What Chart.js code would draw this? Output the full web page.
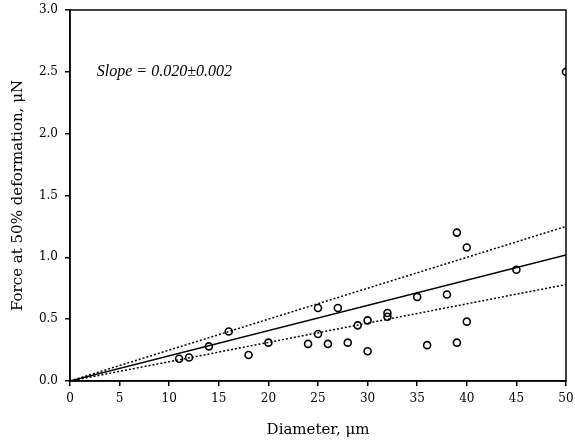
<!DOCTYPE html>
<html>
<head>
<meta charset="utf-8">
<script src="https://cdn.jsdelivr.net/npm/chart.js@4.4.0/dist/chart.umd.min.js"></script>
<style>
  html, body { margin: 0; padding: 0; background: #fff; }
  #wrap { width: 575px; height: 442px; }
</style>
</head>
<body>
<div id="wrap"><canvas id="chart"></canvas></div>
<script>
// measured points
const diameters = [11, 12, 14, 16, 18, 20, 24, 25, 25, 26, 27, 28, 29, 30, 30, 32, 32, 35, 36, 38, 39, 39, 40, 40, 45, 50];
const forces = [0.18, 0.19, 0.28, 0.40, 0.21, 0.31, 0.30, 0.59, 0.38, 0.30, 0.59, 0.31, 0.45, 0.49, 0.24, 0.55, 0.52, 0.68, 0.29, 0.70, 1.20, 0.31, 1.08, 0.48, 0.90, 2.50];

// fit lines (start / end)
const fitX = [0, 50];
const fitMid = [0, 1.02];
const fitUpper = [0, 1.25];
const fitLower = [0, 0.78];

const slopeText = 'Slope = 0.020\u00b10.002';

const toPts = (xs, ys) => xs.map((x, i) => ({ x: x, y: ys[i] }));

// frame + annotation
const framePlugin = {
    id: 'frame',
    afterDraw(chart) {
        const { ctx, chartArea } = chart;
        ctx.save();
        ctx.strokeStyle = '#000';
        ctx.lineWidth = 1.5;
        ctx.strokeRect(chartArea.left, chartArea.top, chartArea.right - chartArea.left, chartArea.bottom - chartArea.top);
        const xs = chart.scales.x, ys = chart.scales.y;
        ctx.fillStyle = '#000';
        ctx.font = 'italic 16px "Liberation Serif"';
        ctx.textBaseline = 'middle';
        ctx.fillText(slopeText, xs.getPixelForValue(2.7), ys.getPixelForValue(2.5));
        ctx.restore();
    }
};

const lineDs = (ys, dash) => ({
    type: 'line',
    data: toPts(fitX, ys),
    borderColor: '#000',
    borderWidth: 1.5,
    borderDash: dash,
    pointRadius: 0,
    fill: false,
    tension: 0
});

new Chart(document.getElementById('chart'), {
    type: 'scatter',
    data: {
        datasets: [
            lineDs(fitMid, []),
            lineDs(fitUpper, [2, 2]),
            lineDs(fitLower, [2, 2]),
            {
                type: 'scatter',
                data: toPts(diameters, forces),
                pointStyle: 'circle',
                pointRadius: 3.5,
                pointBorderWidth: 1.6,
                pointBorderColor: '#000',
                pointBackgroundColor: 'rgba(255,255,255,0)'
            }
        ]
    },
    options: {
        responsive: true,
        maintainAspectRatio: false,
        animation: false,
        layout: { padding: { left: 0, right: 9, top: 10, bottom: 0 } },
        plugins: {
            legend: { display: false },
            tooltip: { enabled: false }
        },
        scales: {
            x: {
                type: 'linear',
                min: 0,
                max: 50,
                afterFit: (s) => {
                    s.height = 61;
                    s.paddingLeft = 0;
                    s.paddingRight = 0;
                },
                border: { display: true, color: '#000', width: 1.5 },
                grid: { drawOnChartArea: false, tickLength: 5, color: '#000', lineWidth: 1.5 },
                ticks: {
                    stepSize: 5,
                    color: '#000',
                    padding: 6,
                    maxRotation: 0,
                    font: { family: '"DejaVu Serif"', size: 12 }
                },
                title: {
                    display: true,
                    text: 'Diameter, \u03bcm',
                    color: '#000',
                    padding: { top: 0, bottom: 3 },
                    font: { family: '"DejaVu Serif"', size: 15 }
                }
            },
            y: {
                min: 0,
                max: 3,
                afterFit: (s) => {
                    s.width = 70;
                    s.paddingTop = 0;
                    s.paddingBottom = 0;
                },
                border: { display: true, color: '#000', width: 1.5 },
                grid: { drawOnChartArea: false, tickLength: 5, color: '#000', lineWidth: 1.5 },
                ticks: {
                    stepSize: 0.5,
                    color: '#000',
                    padding: 7,
                    callback: (v) => v.toFixed(1),
                    font: { family: '"DejaVu Serif"', size: 12 }
                },
                title: {
                    display: true,
                    text: 'Force at 50% deformation, \u03bcN',
                    color: '#000',
                    padding: { top: 9, bottom: 0 },
                    font: { family: '"DejaVu Serif"', size: 15 }
                }
            }
        }
    },
    plugins: [framePlugin]
});
</script>
</body>
</html>
